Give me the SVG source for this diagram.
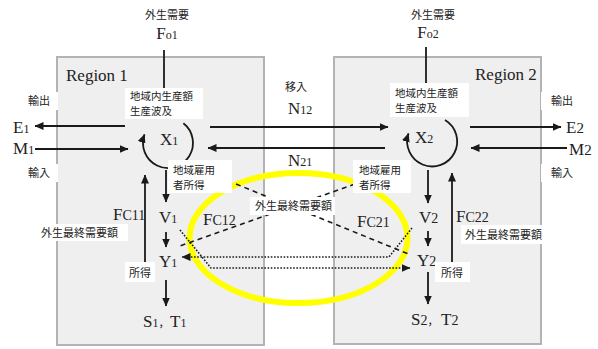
<svg xmlns="http://www.w3.org/2000/svg" width="598" height="349" viewBox="0 0 598 349">
<style>
.region{fill:#efefef;stroke:#b3b3b3;stroke-width:2}
.lbl{fill:#fff;stroke:none}
.jp{font-family:"Noto Sans CJK JP","Noto Sans",sans-serif;font-size:11px;fill:#222}
.jp2{font-family:"Noto Sans CJK JP","Noto Sans",sans-serif;font-size:10.5px;fill:#222}
.lat{font-family:"Liberation Serif","Times New Roman",serif;font-size:17px;fill:#222}
.sub{font-size:12px}
.ln{fill:none;stroke:#1a1a1a;stroke-width:1.8}
.arr{fill:none;stroke:#1a1a1a;stroke-width:1.8;marker-end:url(#ah)}
.dash{fill:none;stroke:#1a1a1a;stroke-width:1.6;stroke-dasharray:5,4}
.dot{fill:none;stroke:#1a1a1a;stroke-width:1.6;stroke-dasharray:1.6,1.6;marker-end:url(#ah)}
</style>
<defs>
<marker id="ah" markerUnits="userSpaceOnUse" markerWidth="9" markerHeight="8" refX="8.5" refY="4" orient="auto"><path d="M0,0 L9,4 L0,8 z" fill="#1a1a1a"/></marker>
</defs>
<rect width="598" height="349" fill="#fff"/>
<g id="region1"><rect class="region" x="57" y="57" width="207" height="288"/><text class="lat" x="66" y="81" font-size="15">Region 1</text></g>
<g id="region2"><rect class="region" x="334" y="57" width="207" height="287"/><text class="lat" x="475" y="80" font-size="15">Region 2</text></g>
<ellipse id="highlight" cx="298.5" cy="238" rx="109" ry="65" fill="none" stroke="#ffff00" stroke-width="6"/>
<g id="connectors">
<line class="ln" x1="164" y1="50" x2="164" y2="90"/>
<line class="ln" x1="426" y1="47" x2="426" y2="83"/>
<line class="arr" x1="125" y1="126" x2="35" y2="126"/>
<line class="arr" x1="35" y1="149" x2="128" y2="149"/>
<line class="arr" x1="470" y1="127" x2="561" y2="127"/>
<line class="arr" x1="567" y1="148" x2="471" y2="148"/>
<line class="arr" x1="210" y1="127" x2="388" y2="127"/>
<line class="arr" x1="385" y1="148" x2="208" y2="148"/>
<path class="arr" d="M183.4,123.3 A25,25 0 1 1 144.5,134.4"/>
<path class="arr" d="M445,120 A25,25 0 1 1 408.5,133.4"/>
<line class="arr" x1="166" y1="170" x2="166" y2="202"/>
<line class="arr" x1="166" y1="232" x2="166" y2="247"/>
<line class="arr" x1="166" y1="280" x2="166" y2="306"/>
<line class="arr" x1="145" y1="271" x2="145" y2="175"/>
<line class="arr" x1="428" y1="170" x2="428" y2="203"/>
<line class="arr" x1="428" y1="231" x2="428" y2="246"/>
<line class="arr" x1="428" y1="272" x2="428" y2="304"/>
<line class="arr" x1="452" y1="263" x2="452" y2="173"/>
<line class="dash" x1="236" y1="184" x2="411" y2="255"/>
<line class="dash" x1="355" y1="184" x2="177" y2="247"/>
<path class="dot" d="M412,228 L389,257 L182,257"/>
<path class="dot" d="M180,230 L211,268 L410,268"/>
</g>
<g id="fo1"><text class="jp" x="167" y="19" text-anchor="middle">外生需要</text><text class="lat" x="167" y="39" text-anchor="middle">F<tspan class="sub">o1</tspan></text></g>
<g id="fo2"><text class="jp" x="433" y="19" text-anchor="middle">外生需要</text><text class="lat" x="428" y="38" text-anchor="middle">F<tspan class="sub">o2</tspan></text></g>
<g id="exp1"><rect class="lbl" x="22" y="92" width="36" height="18"/><text class="jp" x="28" y="105">輸出</text></g>
<g id="imp1"><rect class="lbl" x="22" y="164" width="36" height="18"/><text class="jp" x="28" y="177">輸入</text></g>
<g id="exp2"><rect class="lbl" x="541" y="92" width="36" height="18"/><text class="jp" x="551" y="105">輸出</text></g>
<g id="imp2"><rect class="lbl" x="541" y="164" width="36" height="18"/><text class="jp" x="551" y="177">輸入</text></g>
<g id="e1"><text class="lat" x="13" y="133">E<tspan class="sub">1</tspan></text></g>
<g id="m1"><text class="lat" x="13" y="154">M<tspan class="sub">1</tspan></text></g>
<g id="e2"><text class="lat" x="566" y="133">E<tspan font-size="15">2</tspan></text></g>
<g id="m2"><text class="lat" x="569" y="155">M<tspan font-size="15">2</tspan></text></g>
<g id="iju"><text class="jp" x="285" y="91">移入</text></g>
<g id="n12"><text class="lat" x="288" y="114">N<tspan class="sub">12</tspan></text></g>
<g id="n21"><text class="lat" x="288" y="166">N<tspan class="sub">21</tspan></text></g>
<g id="x1"><rect class="lbl" x="125" y="88" width="78" height="31"/><text class="jp2" x="130" y="100">地域内生産額</text><text class="jp2" x="130" y="115">生産波及</text><text class="lat" x="160" y="145">X<tspan class="sub">1</tspan></text></g>
<g id="x2"><rect class="lbl" x="390" y="83" width="79" height="34"/><text class="jp2" x="395" y="97">地域内生産額</text><text class="jp2" x="395" y="112">生産波及</text><text class="lat" x="415" y="143">X<tspan class="sub">2</tspan></text></g>
<g id="inc1"><rect class="lbl" x="168" y="160" width="64" height="33"/><text class="jp2" x="173" y="174">地域雇用</text><text class="jp2" x="173" y="189">者所得</text></g>
<g id="inc2"><rect class="lbl" x="353" y="160" width="58" height="33"/><text class="jp2" x="359" y="174">地域雇用</text><text class="jp2" x="359" y="189">者所得</text></g>
<g id="v1"><text class="lat" x="159" y="223" font-size="16">V<tspan class="sub">1</tspan></text></g>
<g id="v2"><text class="lat" x="419" y="223" font-size="16">V<tspan font-size="14">2</tspan></text></g>
<g id="y1"><text class="lat" x="159" y="267" font-size="16">Y<tspan class="sub">1</tspan></text></g>
<g id="y2"><text class="lat" x="417" y="266" font-size="16">Y<tspan font-size="14">2</tspan></text></g>
<g id="st1"><text class="lat" x="143" y="327" font-size="16">S<tspan class="sub">1</tspan><tspan class="jp" font-size="12">，</tspan><tspan x="170">T</tspan><tspan class="sub">1</tspan></text></g>
<g id="st2"><text class="lat" x="411" y="325" font-size="16">S<tspan font-size="14">2</tspan><tspan class="jp" font-size="12">，</tspan><tspan x="441">T<tspan font-size="14">2</tspan></tspan></text></g>
<g id="fc11"><text class="lat" x="113" y="220" font-size="16">F<tspan font-size="14">C11</tspan></text></g>
<g id="fc22"><text class="lat" x="456" y="222" font-size="16">F<tspan font-size="14">C22</tspan></text></g>
<g id="fc12"><text class="lat" x="203" y="225" font-size="16">F<tspan font-size="14">C12</tspan></text></g>
<g id="fc21"><text class="lat" x="357" y="227" font-size="16">F<tspan font-size="14">C21</tspan></text></g>
<g id="fd1"><rect class="lbl" x="37" y="224" width="91" height="17"/><text class="jp" x="41" y="237">外生最終需要額</text></g>
<g id="fd2"><rect class="lbl" x="461" y="225" width="82" height="19"/><text class="jp" x="465" y="239">外生最終需要額</text></g>
<g id="fdc"><rect class="lbl" x="250" y="197" width="85" height="18"/><text class="jp" x="255" y="210">外生最終需要額</text></g>
<g id="sy1"><rect class="lbl" x="125" y="262" width="30" height="20"/><text class="jp" x="129" y="277">所得</text></g>
<g id="sy2"><rect class="lbl" x="435" y="262" width="35" height="20"/><text class="jp" x="441" y="277">所得</text></g>
</svg>
